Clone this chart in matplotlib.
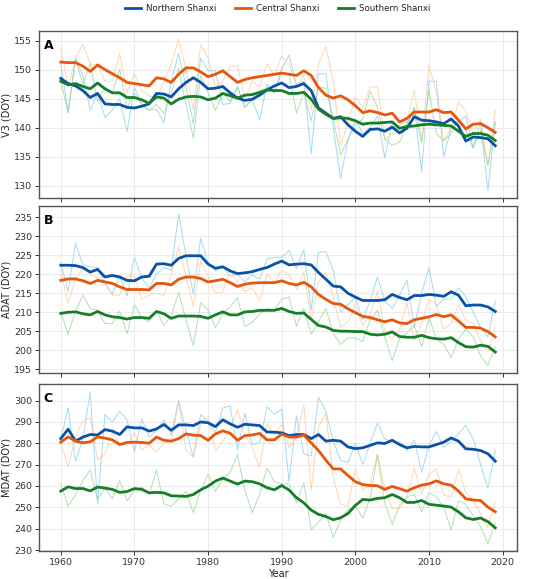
import matplotlib
matplotlib.use("Agg")
import matplotlib.pyplot as plt
import numpy as np

years = list(range(1960, 2020))
regions = ["Northern Shanxi", "Central Shanxi", "Southern Shanxi"]

# ---------------- Panel A : V3 (DOY) ----------------
v3_north_raw = [151, 142.6, 152, 149, 143, 146, 141.8, 143, 145, 139.3,
                147, 144, 143, 143.2, 140.8, 148, 152.8, 147, 140.7, 152,
                149.8, 149.8, 144, 144.2, 147, 143.5, 144.8, 141.3, 147.5, 146,
                150.2, 152.5, 147.4, 148, 135.5, 149.3, 149.3, 140, 131.3, 138,
                141.5, 139, 140, 142, 134.8, 141, 139, 140.5, 143.5, 132.5,
                148, 148, 135, 140, 141, 142, 136.5, 141, 129.2, 141]
v3_central_raw = [153.8, 147, 152, 154.4, 151, 150.7, 148, 148, 152.7, 146,
                  149.3, 146.5, 145.5, 145, 148, 151, 155.3, 150, 143, 154.3,
                  152, 147, 148, 150.5, 150.7, 145, 148, 147, 151, 149,
                  152.3, 151, 147, 149, 143, 151, 154, 148, 137, 141,
                  145.3, 143.5, 147, 147, 138, 139, 140.5, 141, 146.5, 137.5,
                  150.8, 146, 137.8, 140, 144.3, 143, 139, 141.5, 133.5, 143]
v3_south_raw = [148, 142.6, 151.8, 147.5, 151, 144.5, 147, 146, 150, 143.5,
                146, 144, 143, 144, 142.5, 146, 150.2, 144, 138.2, 149,
                146, 143, 146, 144.5, 147, 143.5, 145, 146, 147, 146,
                149.5, 149.3, 142.5, 146, 141.2, 147, 146.8, 141.5, 135.3, 138,
                140.5, 141.5, 146.3, 143.5, 138, 137, 137.5, 140.5, 143.5, 137.5,
                146.5, 139, 137.8, 139, 141.5, 139.5, 136.5, 139.5, 133.5, 141]
v3_north_smooth = [148.5, 147.6, 147.2, 146.4, 145.2, 145.9, 144.1, 144.0, 144.0, 143.5,
                   143.4, 143.7, 144.1, 145.9, 145.8, 145.3, 146.7, 147.8, 148.6, 147.8,
                   146.7, 146.8, 147.1, 146.0, 145.1, 144.7, 144.9, 145.6, 146.5, 147.2,
                   147.7, 146.9, 147.1, 147.6, 146.4, 143.4, 142.5, 141.6, 141.9, 140.5,
                   139.4, 138.5, 139.7, 139.8, 139.4, 140.1, 139.1, 139.9, 141.9, 141.3,
                   141.2, 141.0, 140.7, 141.5, 140.3, 137.7, 138.4, 138.3, 138.1, 136.9]
v3_central_smooth = [151.3, 151.2, 151.2, 150.6, 149.7, 150.8, 150.0, 149.3, 148.6, 147.8,
                     147.6, 147.4, 147.2, 148.6, 148.4, 147.8, 149.2, 150.3, 150.3, 149.6,
                     148.8, 149.2, 149.8, 148.8, 147.8, 148.3, 148.6, 148.8, 149.0, 149.2,
                     149.4, 149.2, 149.0, 149.8, 149.0, 146.9, 145.6, 145.1, 145.5, 144.8,
                     143.8, 142.6, 142.9, 142.6, 142.2, 142.5, 141.0, 141.6, 142.7, 142.7,
                     142.7, 143.1, 142.6, 142.7, 141.3, 139.8, 140.6, 140.7, 140.0, 139.2]
v3_south_smooth = [148.0, 147.4, 147.6, 147.1, 146.7, 147.7, 146.7, 146.0, 146.0, 145.2,
                   145.2, 144.8, 144.2, 145.3, 145.1, 144.1, 144.9, 145.3, 145.4, 145.3,
                   144.8, 145.1, 145.9, 145.5, 145.1, 145.6, 145.7, 146.1, 146.5, 146.4,
                   146.4, 145.9, 145.9, 146.1, 144.9, 143.2, 142.3, 141.6, 141.7, 141.6,
                   141.2, 140.6, 140.8, 140.8, 140.9, 141.0, 139.9, 140.2, 140.3, 140.5,
                   140.6, 140.5, 140.4, 140.3, 139.4, 138.5, 139.0, 139.0, 138.7, 137.8]

# ---------------- Panel B : ADAT (DOY) ----------------
adat_north_raw = [223, 215.5, 228.2, 222.5, 222, 221.8, 217.5, 214.8, 219.5, 214.3,
                  224.5, 219, 216.5, 220, 221.8, 221, 236, 225, 214.8, 229.5,
                  223, 221, 222, 219.5, 220, 218, 219.8, 218.8, 224, 224.5,
                  224.5, 226.3, 221.5, 226.5, 210.5, 225.8, 226, 221, 210, 212,
                  214, 208, 213, 219.3, 213, 211, 214.5, 218.5, 206, 215,
                  221.8, 211.5, 213.5, 213.5, 216.5, 214, 210, 206, 203.5, 213]
adat_central_raw = [221, 212.3, 219, 221.5, 220, 219, 218, 214.5, 214.5, 219.5,
                    219.5, 213.5, 214.5, 215, 214.5, 220, 227.3, 219.5, 211.5, 223.5,
                    219.5, 215, 215.3, 221.3, 218, 215.5, 216.5, 213, 220, 218,
                    221, 220, 216, 220.5, 208, 218, 220.5, 214, 206, 207.5,
                    212, 206.5, 209.5, 215.5, 205, 203, 205.5, 212.5, 202.5, 207,
                    213.5, 212, 205.5, 207, 212, 208, 207, 202.5, 199.5, 206]
adat_south_raw = [210, 204.2, 210.3, 214.5, 211, 210.5, 207, 207, 210.3, 204.3,
                  212, 208.5, 207.5, 210.5, 206.5, 209, 215.3, 208, 201.2, 212.5,
                  210.5, 206, 209.5, 211.5, 213.8, 206.3, 207.3, 209.5, 211, 210.5,
                  213.5, 214, 206.3, 211, 204.2, 207.5, 211, 204.5, 201.5, 203.2,
                  203.2, 202.3, 208, 210.5, 203.5, 197.2, 203, 204.5, 206.5, 201,
                  208.5, 203, 201.5, 198, 203, 205.5, 203.5, 198.5, 196, 201]
adat_north_smooth = [222.4, 222.4, 222.3, 221.8, 220.6, 221.3, 219.3, 219.7, 219.3, 218.4,
                     218.3, 219.3, 219.5, 222.7, 222.8, 222.4, 224.2, 224.9, 224.9, 224.9,
                     222.7, 221.6, 222.0, 220.9, 220.2, 220.4, 220.7, 221.3, 221.8, 222.7,
                     223.5, 222.5, 222.7, 222.8, 222.5, 220.5, 218.7, 216.9, 216.7, 215.0,
                     214.0, 213.1, 213.1, 213.1, 213.3, 214.7, 213.9, 213.3, 214.4, 214.4,
                     214.7, 214.5, 214.2, 215.4, 214.5, 211.7, 211.9, 211.9, 211.4, 210.2]
adat_central_smooth = [218.4, 218.8, 218.8, 218.3, 217.6, 218.4, 218.0, 217.6, 216.7, 216.0,
                       216.0, 216.0, 215.9, 217.6, 217.6, 217.2, 218.7, 219.3, 219.3, 218.9,
                       218.0, 218.3, 218.7, 217.8, 216.8, 217.4, 217.7, 217.8, 217.8, 217.8,
                       218.3, 217.6, 217.2, 217.9, 216.7, 214.7, 213.4, 212.3, 212.1, 210.9,
                       209.9, 208.9, 208.6, 208.0, 207.5, 208.0, 207.2, 207.0, 208.0, 208.4,
                       208.8, 209.4, 208.8, 209.3, 207.7, 206.0, 206.0, 205.8, 204.9, 203.5]
adat_south_smooth = [209.7, 210.0, 210.1, 209.6, 209.3, 210.2, 209.3, 208.8, 208.6, 208.2,
                     208.6, 208.6, 208.4, 210.2, 209.6, 208.4, 209.0, 209.0, 209.0, 208.9,
                     208.4, 209.3, 210.1, 209.3, 209.3, 210.1, 210.2, 210.5, 210.5, 210.5,
                     211.0, 210.2, 209.7, 209.8, 208.1, 206.5, 206.1, 205.2, 205.0, 205.0,
                     204.9, 204.9, 204.2, 204.0, 204.2, 204.8, 203.6, 203.4, 203.4, 203.9,
                     203.3, 203.0, 202.9, 203.3, 202.0, 200.9, 200.8, 201.3, 201.0, 199.5]

# ---------------- Panel C : MDAT (DOY) ----------------
mdat_north_raw = [282, 296.5, 271.5, 282, 304, 251.5, 293.5, 290, 295, 291,
                  276, 291.5, 283, 286, 291, 284, 300, 286, 273.5, 293.5,
                  290, 285, 296.5, 297.5, 277, 294, 279.5, 280, 297, 293.5,
                  296, 262, 293, 275, 274, 301.5, 295, 281, 272, 271,
                  280, 270, 280, 289.5, 282, 281, 280.5, 276.5, 281.5, 266.5,
                  279, 285.5, 278, 281, 284.5, 288.5, 282, 270, 259, 276.5]
mdat_central_raw = [280, 269, 283, 290.5, 292, 272, 275, 285, 280, 279,
                    285, 277, 279, 276, 280, 281, 299, 277, 273.5, 289,
                    292, 276.5, 281, 286, 296, 284, 278, 268.5, 289, 284,
                    289, 278, 283, 298, 258, 288, 294, 264, 251.5, 250.5,
                    268, 258, 261, 275, 259, 249.5, 249.5, 254.5, 268.5, 256,
                    265.5, 268, 256, 254.5, 268, 257, 253.5, 247, 240.5, 252]
mdat_south_raw = [261, 250.5, 256, 262.5, 267.5, 253.5, 259, 254, 262.5, 253,
                  258, 259.5, 256, 267.5, 251.5, 250.5, 254, 257.5, 247.5, 258,
                  265.5, 257.5, 263, 266.5, 274.5, 258, 247.5, 256, 268.5, 262,
                  261, 261, 252, 261.5, 239.5, 243, 247, 236, 244, 249,
                  251, 245, 254, 274.5, 252, 242, 251, 255, 256, 248,
                  257, 255, 250, 239.5, 253, 251.5, 246, 241, 233, 243]
mdat_north_smooth = [282.2, 286.6, 281.0, 282.9, 284.1, 283.9, 286.4, 285.7, 284.1, 287.7,
                     287.2, 287.2, 285.7, 286.7, 288.8, 286.1, 288.6, 288.6, 288.3, 290.0,
                     289.6, 287.8, 291.0, 289.1, 287.5, 288.9, 288.6, 288.3, 285.3, 285.2,
                     284.9, 283.6, 284.1, 284.1, 282.2, 284.1, 281.0, 281.4, 281.0, 278.3,
                     277.5, 277.9, 279.0, 280.2, 279.9, 281.4, 279.4, 277.9, 278.5, 278.3,
                     278.3, 279.4, 280.5, 282.5, 281.0, 277.4, 277.2, 276.6, 275.1, 271.6]
mdat_central_smooth = [280.5, 283.0, 281.0, 280.2, 280.7, 283.0, 282.4, 281.6, 279.4, 280.4,
                       280.5, 280.4, 280.0, 282.9, 281.4, 281.0, 282.2, 284.4, 283.8, 283.6,
                       281.4, 284.4, 285.8, 284.7, 281.4, 283.6, 283.9, 284.6, 281.6, 281.6,
                       284.3, 282.9, 282.9, 283.9, 280.2, 276.6, 272.1, 268.0, 268.0, 264.9,
                       262.0, 260.7, 260.2, 260.1, 258.4, 259.8, 258.7, 257.6, 259.2, 260.4,
                       261.0, 262.4, 261.0, 260.4, 257.6, 254.0, 253.4, 253.2, 250.1, 247.9]
mdat_south_smooth = [257.6, 259.6, 258.8, 258.8, 257.7, 259.5, 259.0, 258.4, 257.0, 257.4,
                     258.8, 258.4, 256.8, 257.0, 256.8, 255.4, 255.3, 255.1, 256.0, 258.2,
                     259.9, 262.3, 263.7, 262.3, 260.9, 262.3, 262.0, 261.0, 259.2, 258.2,
                     260.2, 258.1, 254.5, 252.1, 248.7, 246.7, 245.7, 244.2, 245.1, 247.1,
                     250.9, 253.7, 253.4, 254.2, 254.5, 256.0, 254.5, 252.3, 252.3, 253.2,
                     251.4, 251.0, 250.6, 250.1, 247.9, 245.1, 244.3, 245.0, 243.3, 240.4]

panels = [
    ("A", "V3 (DOY)", [v3_north_raw, v3_central_raw, v3_south_raw],
     [v3_north_smooth, v3_central_smooth, v3_south_smooth], [130, 135, 140, 145, 150, 155]),
    ("B", "ADAT (DOY)", [adat_north_raw, adat_central_raw, adat_south_raw],
     [adat_north_smooth, adat_central_smooth, adat_south_smooth],
     [195, 200, 205, 210, 215, 220, 225, 230, 235]),
    ("C", "MDAT (DOY)", [mdat_north_raw, mdat_central_raw, mdat_south_raw],
     [mdat_north_smooth, mdat_central_smooth, mdat_south_smooth],
     [230, 240, 250, 260, 270, 280, 290, 300]),
]

dark = ["#0a52a8", "#e8560c", "#167d28"]
light = ["#7fcbea", "#ffc58f", "#8fd48f"]

fig = plt.figure(figsize=(5.5, 5.79), dpi=100)
left, width = 0.071, 0.869
bottoms = [0.658, 0.356, 0.048]
height = 0.288

axes = []
for i, (lab, ylab, raws, smooths, yt) in enumerate(panels):
    ax = fig.add_axes([left, bottoms[i], width, height])
    axes.append(ax)
    for r in range(3):
        ax.plot(years, raws[r], color=light[r], lw=0.7, alpha=0.7, zorder=2)
    for r in range(3):
        ax.plot(years, smooths[r], color=dark[r], lw=2.0, zorder=3,
                label=regions[r])
    ax.set_yticks(yt)
    ax.set_ylabel(ylab, fontsize=7, color="#222222", labelpad=1.5)
    ax.grid(True, color="#e8e8e8", lw=0.6, zorder=0)
    ax.set_axisbelow(True)
    ax.tick_params(labelsize=6.8, colors="#333333", length=3, width=0.7, pad=2)
    for s in ax.spines.values():
        s.set_color("#555555")
        s.set_linewidth(1.0)
    ax.text(0.01, 0.955, lab, transform=ax.transAxes, fontsize=9,
            fontweight="bold", va="top", ha="left", zorder=5)
    ax.set_xticks([1960, 1970, 1980, 1990, 2000, 2010, 2020])
    if i < 2:
        ax.tick_params(labelbottom=False)

axes[2].set_xlabel("Year", fontsize=7, color="#222222", labelpad=1)

handles, labels = axes[0].get_legend_handles_labels()
fig.legend(handles, labels, loc="upper center", bbox_to_anchor=(0.505, 1.006),
           ncol=3, frameon=False, fontsize=6.2, handlelength=1.8,
           handletextpad=0.6, columnspacing=2.2, labelcolor="#222222")

fig.savefig("out.png", dpi=100)
